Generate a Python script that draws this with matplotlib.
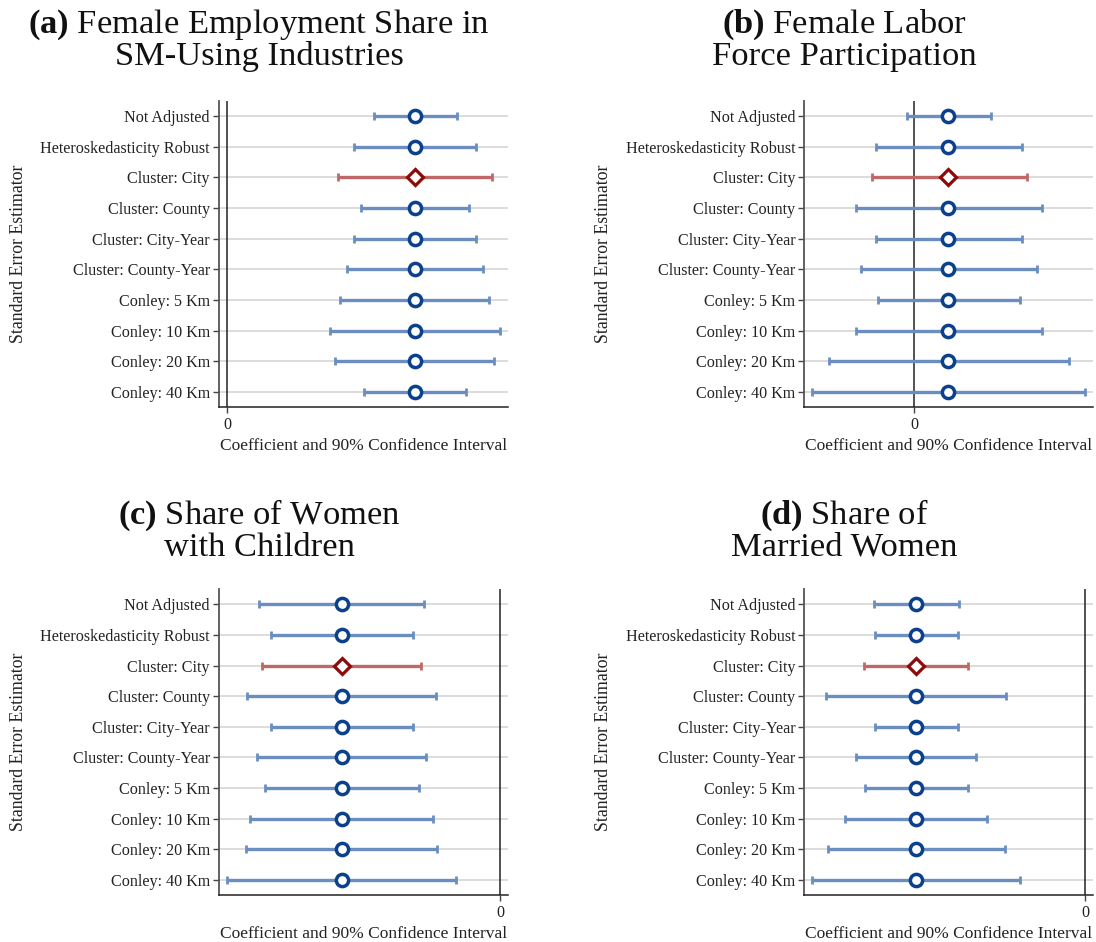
import matplotlib
matplotlib.use("Agg")
import matplotlib.pyplot as plt

plt.rcParams['font.family'] = ['Liberation Serif', 'DejaVu Serif']
plt.rcParams['mathtext.fontset'] = 'custom'
plt.rcParams['mathtext.rm'] = 'Liberation Serif'
plt.rcParams['mathtext.bf'] = 'Liberation Serif:bold'

estimators = ["Not Adjusted", "Heteroskedasticity Robust", "Cluster: City", "Cluster: County",
              "Cluster: City-Year", "Cluster: County-Year", "Conley: 5 Km", "Conley: 10 Km",
              "Conley: 20 Km", "Conley: 40 Km"]
highlight = "Cluster: City"

titles = [r"$\mathbf{(a)}$ Female Employment Share in" + "\nSM-Using Industries",
          r"$\mathbf{(b)}$ Female Labor" + "\nForce Participation",
          r"$\mathbf{(c)}$ Share of Women" + "\nwith Children",
          r"$\mathbf{(d)}$ Share of" + "\nMarried Women"]

# point estimates (arbitrary units, zero = reference line)
coef_a = 0.1877
coef_b = 0.0340
coef_c = -0.1583
coef_d = -0.1690

lo_a = [0.1467, 0.1270, 0.1113, 0.1337, 0.1270, 0.1200, 0.1133, 0.1027, 0.1083, 0.1370]
hi_a = [0.2297, 0.2487, 0.2647, 0.2417, 0.2487, 0.2560, 0.2620, 0.2730, 0.2673, 0.2390]
lo_b = [-0.0073, -0.0383, -0.0427, -0.0587, -0.0383, -0.0533, -0.0360, -0.0587, -0.0857, -0.1020]
hi_b = [0.0763, 0.1073, 0.1123, 0.1280, 0.1073, 0.1223, 0.1053, 0.1273, 0.1543, 0.1707]
lo_c = [-0.2407, -0.2293, -0.2377, -0.2527, -0.2293, -0.2433, -0.2353, -0.2503, -0.2540, -0.2727]
hi_c = [-0.0760, -0.0873, -0.0787, -0.0643, -0.0873, -0.0737, -0.0813, -0.0667, -0.0627, -0.0440]
lo_d = [-0.2117, -0.2107, -0.2210, -0.2590, -0.2107, -0.2293, -0.2203, -0.2400, -0.2577, -0.2730]
hi_d = [-0.1263, -0.1277, -0.1170, -0.0793, -0.1277, -0.1090, -0.1177, -0.0980, -0.0807, -0.0653]

xlims = [(-0.008, 0.281), (-0.110, 0.179), (-0.281, 0.0083), (-0.281, 0.008)]

panels = [(coef_a, lo_a, hi_a), (coef_b, lo_b, hi_b), (coef_c, lo_c, hi_c), (coef_d, lo_d, hi_d)]

W, H = 1096, 942
fig = plt.figure(figsize=(W / 100, H / 100), dpi=100)

# axes boxes in pixels: (left, top, right, bottom)
boxes = [(219, 100.7, 508, 407.3), (804.3, 100.7, 1093.3, 407.3),
         (219, 589, 508.3, 895.3), (804.3, 589, 1093.3, 895.3)]
title_pos = [(259, 40), (844, 40), (259, 530), (844, 530)]

BLUE_LINE = '#6a8ec0'
BLUE_MK = '#0b408c'
RED_LINE = '#c06868'
RED_MK = '#8c0a0a'
TXT = '#222222'

for k, ((coef, lo, hi), box, xl) in enumerate(zip(panels, boxes, xlims)):
    l, t, r, b = box
    ax = fig.add_axes([l / W, 1 - b / H, (r - l) / W, (b - t) / H])
    ys = list(range(len(estimators)))
    for y in ys:
        ax.axhline(y, color='#d6d6d6', lw=1.2, zorder=0)
    ax.axvline(0, color='#222222', lw=1.1, zorder=1)
    for y, name, lv, hv in zip(ys, estimators, lo, hi):
        isred = name == highlight
        lc = RED_LINE if isred else BLUE_LINE
        mc = RED_MK if isred else BLUE_MK
        ax.errorbar([coef], [y], xerr=[[coef - lv], [hv - coef]], fmt='none',
                    ecolor=lc, elinewidth=2.4, capsize=3.2, capthick=2.0, zorder=2)
        if isred:
            ax.plot([coef], [y], marker='D', ms=8.2, mfc='white', mec=mc, mew=2.3,
                    ls='none', zorder=3)
        else:
            ax.plot([coef], [y], marker='o', ms=8.8, mfc='white', mec=mc, mew=2.5,
                    ls='none', zorder=3)
    ax.set_ylim(len(estimators) - 0.5, -0.5)
    ax.set_xlim(*xl)
    ax.set_yticks(ys)
    ax.set_yticklabels(estimators, fontsize=11.6, color=TXT)
    ax.set_xticks([0])
    ax.set_xticklabels(["0"], fontsize=11.6, color=TXT)
    ax.tick_params(axis='y', length=4, width=1, color='#444444', pad=2.5)
    ax.tick_params(axis='x', length=4, width=1, color='#444444', pad=3)
    for s in ['top', 'right']:
        ax.spines[s].set_visible(False)
    ax.spines['left'].set_color('#555555')
    ax.spines['left'].set_linewidth(1.3)
    ax.spines['bottom'].set_color('#222222')
    ax.spines['bottom'].set_linewidth(1.1)
    ax.set_xlabel("Coefficient and 90% Confidence Interval", fontsize=12.5, color=TXT)
    ax.xaxis.set_label_coords(0.5, -31.0 / (b - t))
    ax.set_ylabel("Standard Error Estimator", fontsize=12.8, color=TXT)
    ax.yaxis.set_label_coords(-192.0 / (r - l), 0.5)
    tx, ty = title_pos[k]
    fig.text(tx / W, 1 - ty / H, titles[k], ha='center', va='center', fontsize=24.8,
             color='#111111', linespacing=0.98)

fig.savefig("out.png", dpi=100)
